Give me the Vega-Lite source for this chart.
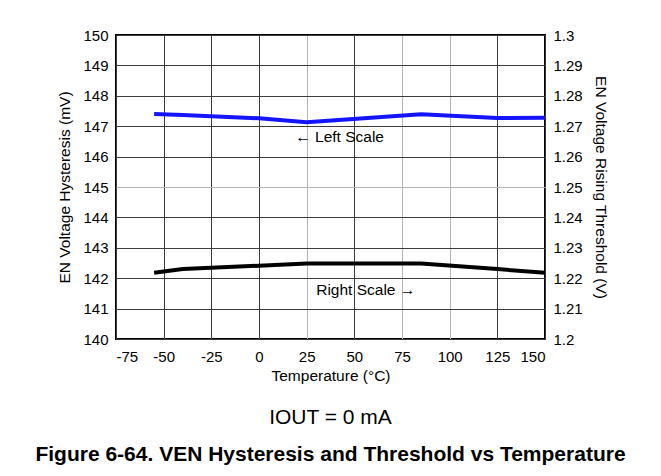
{
  "$schema": "https://vega.github.io/schema/vega-lite/v6.json",
  "width": 429,
  "height": 304,
  "autosize": {"type": "none"},
  "padding": {"left": 116, "top": 35, "right": 116, "bottom": 137},
  "background": "white",
  "config": {
    "font": "Liberation Sans",
    "view": {"stroke": "black", "strokeWidth": 2},
    "axis": {
      "labelFont": "Liberation Sans",
      "labelFontSize": 15,
      "labelColor": "black",
      "labelOverlap": false,
      "labelExpr": "replace(datum.label, '−', '-')",
      "titleFont": "Liberation Sans",
      "titleFontSize": 15.5,
      "titleFontWeight": "normal",
      "titleColor": "black",
      "ticks": false,
      "domain": false,
      "labelPadding": 8,
      "gridWidth": 1,
      "gridOpacity": 1
    }
  },
  "title": {
    "text": "IOUT = 0 mA",
    "subtitle": "Figure 6-64. VEN Hysteresis and Threshold vs Temperature",
    "orient": "bottom",
    "anchor": "middle",
    "font": "Liberation Sans",
    "fontSize": 21,
    "fontWeight": "normal",
    "color": "black",
    "subtitleFont": "Liberation Sans",
    "subtitleFontSize": 21,
    "subtitleFontWeight": "bold",
    "subtitleColor": "black",
    "subtitlePadding": 16,
    "offset": 23
  },
  "layer": [
    {
      "layer": [
        {
          "data": {"values": [
            {"temp": -55, "mV": 147.4},
            {"temp": -40, "mV": 147.37},
            {"temp": 0, "mV": 147.26},
            {"temp": 25, "mV": 147.13},
            {"temp": 85, "mV": 147.39},
            {"temp": 125, "mV": 147.27},
            {"temp": 150, "mV": 147.28}
          ]},
          "mark": {"type": "line", "color": "#1414ff", "strokeWidth": 4},
          "encoding": {
            "x": {
              "field": "temp",
              "type": "quantitative",
              "scale": {"domain": [-75, 150], "nice": false, "zero": false},
              "axis": {
                "title": "Temperature (°C)",
                "values": [-75, -50, -25, 0, 25, 50, 75, 100, 125, 150],
                "grid": true,
                "gridColor": {"condition": {"test": "datum.value == 25 || datum.value == 75 || datum.value == 100", "value": "#b4b4b4"}, "value": "#3c3c3c"},
                "labelPadding": 10,
                "titlePadding": 4
              }
            },
            "y": {
              "field": "mV",
              "type": "quantitative",
              "scale": {"domain": [140, 150], "nice": false, "zero": false},
              "axis": {
                "orient": "left",
                "title": "EN Voltage Hysteresis (mV)",
                "values": [140, 141, 142, 143, 144, 145, 146, 147, 148, 149, 150],
                "grid": true,
                "gridColor": {"condition": {"test": "datum.value == 145", "value": "#b4b4b4"}, "value": "#3c3c3c"},
                "titlePadding": 10
              }
            }
          }
        },
        {
          "data": {"values": [{"temp": 19, "mV": 146.65, "label": "← Left Scale"}]},
          "mark": {"type": "text", "align": "left", "baseline": "middle", "fontSize": 15.5, "font": "Liberation Sans", "color": "black"},
          "encoding": {
            "x": {
              "field": "temp",
              "type": "quantitative",
              "scale": {"domain": [-75, 150], "nice": false, "zero": false},
              "axis": {
                "title": "Temperature (°C)",
                "values": [-75, -50, -25, 0, 25, 50, 75, 100, 125, 150],
                "grid": true,
                "gridColor": {"condition": {"test": "datum.value == 25 || datum.value == 75 || datum.value == 100", "value": "#b4b4b4"}, "value": "#3c3c3c"},
                "labelPadding": 10,
                "titlePadding": 4
              }
            },
            "y": {
              "field": "mV",
              "type": "quantitative",
              "scale": {"domain": [140, 150], "nice": false, "zero": false},
              "axis": {
                "orient": "left",
                "title": "EN Voltage Hysteresis (mV)",
                "values": [140, 141, 142, 143, 144, 145, 146, 147, 148, 149, 150],
                "grid": true,
                "gridColor": {"condition": {"test": "datum.value == 145", "value": "#b4b4b4"}, "value": "#3c3c3c"},
                "titlePadding": 10
              }
            },
            "text": {"field": "label"}
          }
        }
      ]
    },
    {
      "layer": [
        {
          "data": {"values": [
            {"temp": -55, "V": 1.2218},
            {"temp": -40, "V": 1.223},
            {"temp": 0, "V": 1.2241},
            {"temp": 25, "V": 1.2248},
            {"temp": 85, "V": 1.2248},
            {"temp": 125, "V": 1.223},
            {"temp": 150, "V": 1.2218}
          ]},
          "mark": {"type": "line", "color": "black", "strokeWidth": 4},
          "encoding": {
            "x": {
              "field": "temp",
              "type": "quantitative",
              "scale": {"domain": [-75, 150], "nice": false, "zero": false},
              "axis": {
                "title": "Temperature (°C)",
                "values": [-75, -50, -25, 0, 25, 50, 75, 100, 125, 150],
                "grid": true,
                "gridColor": {"condition": {"test": "datum.value == 25 || datum.value == 75 || datum.value == 100", "value": "#b4b4b4"}, "value": "#3c3c3c"},
                "labelPadding": 10,
                "titlePadding": 4
              }
            },
            "y": {
              "field": "V",
              "type": "quantitative",
              "scale": {"domain": [1.2, 1.3], "nice": false, "zero": false},
              "axis": {
                "orient": "right",
                "title": "EN Voltage Rising Threshold (V)",
                "values": [1.2, 1.21, 1.22, 1.23, 1.24, 1.25, 1.26, 1.27, 1.28, 1.29, 1.3],
                "format": ".3~g",
                "grid": false,
                "titlePadding": 10
              }
            }
          }
        },
        {
          "data": {"values": [{"temp": 30, "V": 1.2161, "label": "Right Scale →"}]},
          "mark": {"type": "text", "align": "left", "baseline": "middle", "fontSize": 15.5, "font": "Liberation Sans", "color": "black"},
          "encoding": {
            "x": {
              "field": "temp",
              "type": "quantitative",
              "scale": {"domain": [-75, 150], "nice": false, "zero": false},
              "axis": {
                "title": "Temperature (°C)",
                "values": [-75, -50, -25, 0, 25, 50, 75, 100, 125, 150],
                "grid": true,
                "gridColor": {"condition": {"test": "datum.value == 25 || datum.value == 75 || datum.value == 100", "value": "#b4b4b4"}, "value": "#3c3c3c"},
                "labelPadding": 10,
                "titlePadding": 4
              }
            },
            "y": {
              "field": "V",
              "type": "quantitative",
              "scale": {"domain": [1.2, 1.3], "nice": false, "zero": false},
              "axis": {
                "orient": "right",
                "title": "EN Voltage Rising Threshold (V)",
                "values": [1.2, 1.21, 1.22, 1.23, 1.24, 1.25, 1.26, 1.27, 1.28, 1.29, 1.3],
                "format": ".3~g",
                "grid": false,
                "titlePadding": 10
              }
            },
            "text": {"field": "label"}
          }
        }
      ]
    }
  ],
  "resolve": {"scale": {"y": "independent"}}
}
